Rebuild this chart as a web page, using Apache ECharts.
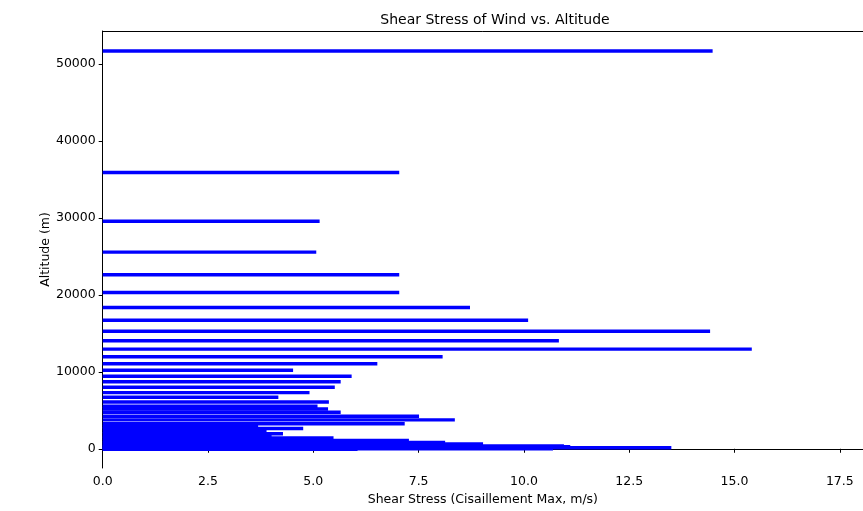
<!DOCTYPE html>
<html>
<head>
<meta charset="utf-8">
<script src="https://cdn.jsdelivr.net/npm/echarts@6/dist/echarts.min.js"></script>
<style>
    html, body { margin: 0; padding: 0; background: #fff; }
    #main { width: 863px; height: 511px; overflow: hidden; }
</style>
</head>
<body>
<div id="main"></div>
<script>
// altitude (m) of each bar
const altitudes = [
    51700, 35900, 29570, 25560, 22630, 20300, 18355, 16710, 15285, 14030,
    12953, 11960, 11050, 10194, 9413, 8722, 7988, 7297, 6692, 6088,
    5527, 5181, 4750, 4235, 3756, 3238, 2850, 2630, 2200, 1943,
    1600, 1400, 1075, 816, 622, 363, 250, 130, 0, -80
];
// shear stress (Cisaillement Max, m/s)
const shear = [
    14.48, 7.04, 5.15, 5.07, 7.04, 7.04, 8.72, 10.10, 14.42, 10.83,
    15.41, 8.07, 6.52, 4.52, 5.91, 5.65, 5.51, 4.91, 4.17, 5.37,
    5.10, 5.35, 5.65, 7.51, 8.36, 7.17, 3.69, 4.76, 3.89, 4.28,
    4.01, 5.48, 7.27, 8.13, 9.03, 10.95, 11.10, 13.50, 10.69, 6.05
];
const xTicks = [0, 2.5, 5, 7.5, 10, 12.5, 15, 17.5];
const yTicks = [0, 10000, 20000, 30000, 40000, 50000];
const barHeight = 450; // bar thickness in metres

const chart = echarts.init(document.getElementById('main'));

const data = altitudes.map((a, i) => [shear[i], a]);

const font = 'DejaVu Sans';
const xMax = 18.05;

const option = {
    animation: false,
    backgroundColor: '#fff',
    title: {
        text: 'Shear Stress of Wind vs. Altitude',
        left: 490,
        top: 8,
        textAlign: 'center',
        textStyle: { fontFamily: font, fontSize: 14, fontWeight: 'normal', color: '#000' }
    },
    grid: {
        left: 102.7,
        top: 31,
        right: 0,
        bottom: 41
    },
    xAxis: [{
        type: 'value',
        min: 0,
        max: xMax,
        name: 'Shear Stress (Cisaillement Max, m/s)',
        nameLocation: 'middle',
        nameGap: 25,
        nameTextStyle: { fontFamily: font, fontSize: 12.5, color: '#000' },
        splitLine: { show: false },
        axisLine: { show: true, lineStyle: { color: '#000', width: 1 } },
        axisTick: { show: true, length: 4, customValues: xTicks, lineStyle: { color: '#000' } },
        axisLabel: {
            customValues: xTicks,
            margin: 7,
            fontFamily: font,
            fontSize: 12.5,
            color: '#000',
            formatter: v => v.toFixed(1)
        }
    }, {
        // top spine only
        type: 'value',
        position: 'top',
        min: 0,
        max: xMax,
        splitLine: { show: false },
        axisLine: { show: true, lineStyle: { color: '#000', width: 1 } },
        axisTick: { show: false },
        axisLabel: { show: false }
    }],
    yAxis: {
        type: 'value',
        min: -2500,
        max: 54300,
        name: 'Altitude (m)',
        nameLocation: 'middle',
        nameGap: 50,
        nameMoveOverlap: false,
        nameTextStyle: { fontFamily: font, fontSize: 12.5, color: '#000' },
        splitLine: { show: false },
        axisLine: { show: true, lineStyle: { color: '#000', width: 1 } },
        axisTick: { show: true, length: 4, customValues: yTicks, lineStyle: { color: '#000' } },
        axisLabel: {
            customValues: yTicks,
            margin: 7,
            fontFamily: font,
            fontSize: 12.5,
            color: '#000',
            formatter: v => String(v)
        }
    },
    series: [{
        type: 'custom',
        xAxisIndex: 0,
        data: data,
        encode: { x: 0, y: 1 },
        renderItem: function (params, api) {
            const val = api.value(0);
            const alt = api.value(1);
            const p0 = api.coord([0, alt + barHeight / 2]);
            const p1 = api.coord([val, alt - barHeight / 2]);
            return {
                type: 'rect',
                shape: { x: p0[0], y: p0[1], width: p1[0] - p0[0], height: p1[1] - p0[1] },
                style: { fill: '#0000ff' }
            };
        }
    }]
};

chart.setOption(option);
</script>
</body>
</html>
